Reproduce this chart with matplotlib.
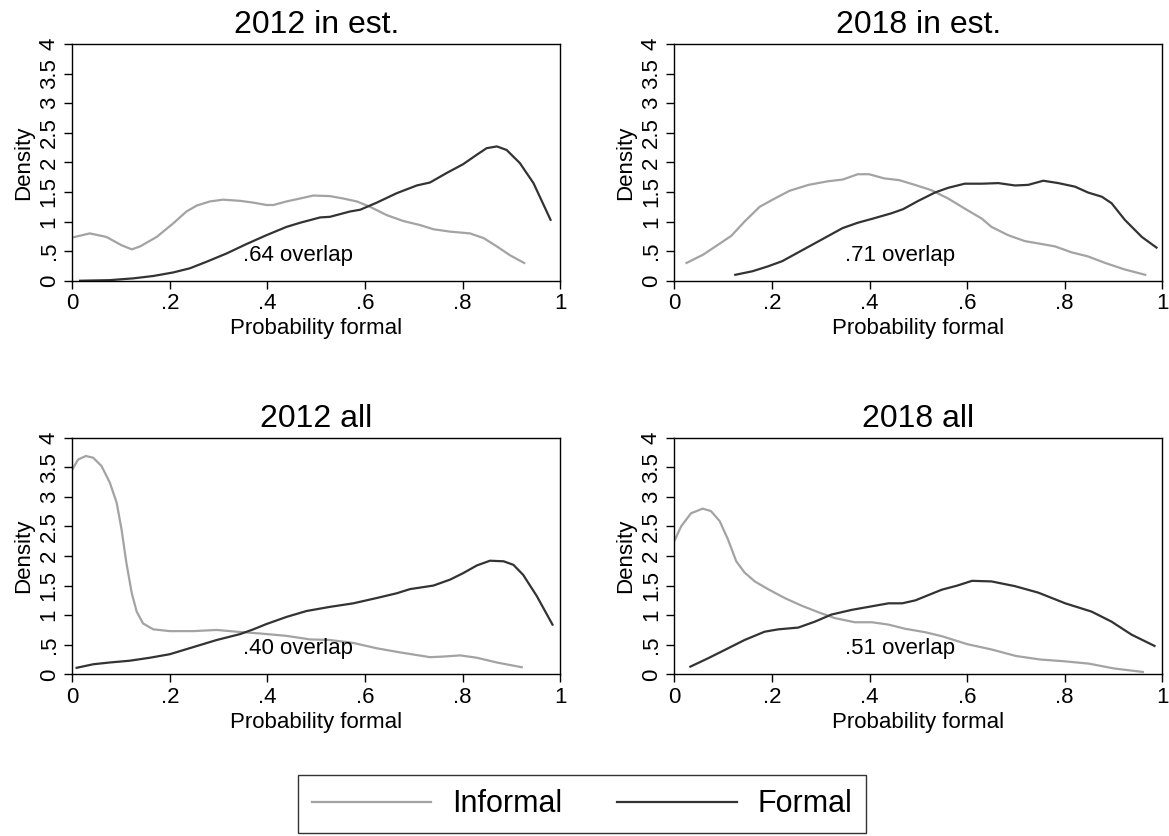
import matplotlib.pyplot as plt
from matplotlib.lines import Line2D

plt.rcParams['font.family'] = ['Liberation Sans', 'DejaVu Sans']

# panel titles and overlap labels
titles = ['2012 in est.', '2018 in est.', '2012 all', '2018 all']
overlaps = ['.64 overlap', '.71 overlap', '.40 overlap', '.51 overlap']

# 2012 in est.
inf_2012_est_x = [0, 0.036, 0.070, 0.101, 0.122, 0.139, 0.173, 0.207, 0.234, 0.255, 0.282, 0.309,
                  0.344, 0.371, 0.398, 0.412, 0.439, 0.467, 0.494, 0.528, 0.555, 0.583, 0.610,
                  0.644, 0.678, 0.713, 0.740, 0.774, 0.815, 0.843, 0.870, 0.897, 0.926]
inf_2012_est_y = [0.73, 0.80, 0.74, 0.60, 0.53, 0.58, 0.74, 0.97, 1.17, 1.27, 1.34, 1.37,
                  1.35, 1.32, 1.28, 1.28, 1.34, 1.39, 1.44, 1.43, 1.39, 1.34, 1.25,
                  1.11, 1.01, 0.94, 0.87, 0.83, 0.80, 0.72, 0.58, 0.43, 0.30]
for_2012_est_x = [0.016, 0.077, 0.125, 0.166, 0.207, 0.241, 0.275, 0.316, 0.357, 0.398, 0.439,
                  0.467, 0.508, 0.528, 0.569, 0.590, 0.624, 0.665, 0.706, 0.733, 0.767, 0.801,
                  0.829, 0.849, 0.870, 0.890, 0.917, 0.945, 0.980]
for_2012_est_y = [0.0, 0.01, 0.04, 0.08, 0.14, 0.21, 0.32, 0.46, 0.62, 0.77, 0.91,
                  0.98, 1.07, 1.08, 1.17, 1.20, 1.32, 1.48, 1.61, 1.66, 1.82, 1.97,
                  2.13, 2.24, 2.27, 2.21, 1.99, 1.65, 1.03]

# 2018 in est.
inf_2018_est_x = [0.025, 0.059, 0.090, 0.117, 0.144, 0.175, 0.206, 0.236, 0.275, 0.314, 0.345,
                  0.376, 0.399, 0.430, 0.461, 0.493, 0.527, 0.561, 0.595, 0.630, 0.650, 0.684,
                  0.718, 0.753, 0.780, 0.814, 0.848, 0.883, 0.923, 0.965]
inf_2018_est_y = [0.30, 0.44, 0.61, 0.76, 1.00, 1.25, 1.39, 1.52, 1.62, 1.68, 1.71,
                  1.80, 1.80, 1.73, 1.70, 1.62, 1.53, 1.39, 1.22, 1.05, 0.91, 0.77,
                  0.67, 0.62, 0.58, 0.48, 0.41, 0.30, 0.19, 0.10]
for_2018_est_x = [0.125, 0.160, 0.191, 0.221, 0.252, 0.283, 0.314, 0.345, 0.376, 0.407, 0.445,
                  0.469, 0.500, 0.534, 0.561, 0.595, 0.630, 0.664, 0.698, 0.725, 0.756, 0.787,
                  0.821, 0.848, 0.876, 0.896, 0.923, 0.958, 0.988]
for_2018_est_y = [0.10, 0.16, 0.24, 0.33, 0.47, 0.61, 0.75, 0.89, 0.98, 1.05, 1.14,
                  1.21, 1.35, 1.49, 1.57, 1.64, 1.64, 1.65, 1.61, 1.62, 1.69, 1.65,
                  1.59, 1.49, 1.42, 1.31, 1.03, 0.74, 0.56]

# 2012 all
inf_2012_all_x = [0, 0.012, 0.028, 0.043, 0.060, 0.077, 0.091, 0.101, 0.111, 0.122, 0.132, 0.145,
                  0.166, 0.200, 0.248, 0.296, 0.337, 0.385, 0.439, 0.487, 0.528, 0.576, 0.624,
                  0.672, 0.733, 0.760, 0.795, 0.829, 0.870, 0.921]
inf_2012_all_y = [3.46, 3.63, 3.69, 3.66, 3.52, 3.24, 2.90, 2.45, 1.88, 1.37, 1.06, 0.86,
                  0.76, 0.73, 0.73, 0.75, 0.72, 0.69, 0.65, 0.59, 0.58, 0.53, 0.44,
                  0.37, 0.29, 0.30, 0.32, 0.28, 0.20, 0.12]
for_2012_all_x = [0.009, 0.043, 0.077, 0.118, 0.159, 0.200, 0.248, 0.296, 0.344, 0.371, 0.398,
                  0.439, 0.480, 0.528, 0.576, 0.624, 0.665, 0.692, 0.740, 0.774, 0.801, 0.829,
                  0.856, 0.884, 0.904, 0.924, 0.952, 0.984]
for_2012_all_y = [0.11, 0.17, 0.20, 0.23, 0.28, 0.34, 0.46, 0.58, 0.68, 0.76, 0.85,
                  0.97, 1.07, 1.14, 1.20, 1.29, 1.37, 1.44, 1.50, 1.60, 1.71, 1.84,
                  1.92, 1.91, 1.85, 1.68, 1.32, 0.84]

# 2018 all
inf_2018_all_x = [0, 0.014, 0.034, 0.058, 0.075, 0.093, 0.110, 0.127, 0.144, 0.165, 0.192, 0.226,
                  0.261, 0.295, 0.329, 0.370, 0.405, 0.439, 0.473, 0.515, 0.55, 0.60, 0.65,
                  0.70, 0.75, 0.80, 0.85, 0.90, 0.96]
inf_2018_all_y = [2.25, 2.50, 2.72, 2.80, 2.76, 2.59, 2.28, 1.91, 1.72, 1.57, 1.44, 1.29,
                  1.16, 1.05, 0.95, 0.88, 0.88, 0.84, 0.77, 0.71, 0.64, 0.51, 0.42,
                  0.31, 0.25, 0.22, 0.18, 0.10, 0.04]
for_2018_all_x = [0.033, 0.069, 0.103, 0.144, 0.185, 0.213, 0.254, 0.288, 0.322, 0.364, 0.405,
                  0.439, 0.467, 0.494, 0.548, 0.580, 0.610, 0.650, 0.698, 0.746, 0.801, 0.855,
                  0.896, 0.937, 0.984]
for_2018_all_y = [0.13, 0.27, 0.41, 0.58, 0.72, 0.76, 0.79, 0.89, 1.01, 1.09, 1.15,
                  1.20, 1.20, 1.25, 1.43, 1.50, 1.58, 1.57, 1.49, 1.38, 1.20, 1.06,
                  0.89, 0.67, 0.48]

informal = [(inf_2012_est_x, inf_2012_est_y), (inf_2018_est_x, inf_2018_est_y),
            (inf_2012_all_x, inf_2012_all_y), (inf_2018_all_x, inf_2018_all_y)]
formal = [(for_2012_est_x, for_2012_est_y), (for_2018_est_x, for_2018_est_y),
          (for_2012_all_x, for_2012_all_y), (for_2018_all_x, for_2018_all_y)]

x_ticks = [0, 0.2, 0.4, 0.6, 0.8, 1]
x_labels = ['0', '.2', '.4', '.6', '.8', '1']
y_ticks = [0, 0.5, 1, 1.5, 2, 2.5, 3, 3.5, 4]
y_labels = ['0', '.5', '1', '1.5', '2', '2.5', '3', '3.5', '4']

gray = '#a3a3a3'
dark = '#333333'

fig = plt.figure(figsize=(11.69, 8.36), dpi=100)
positions = [[0.0618, 0.6642, 0.4175, 0.2831], [0.5768, 0.6642, 0.4175, 0.2831],
             [0.0618, 0.1934, 0.4175, 0.2831], [0.5768, 0.1934, 0.4175, 0.2831]]

for i in range(4):
    ax = fig.add_axes(positions[i])
    ax.plot(informal[i][0], informal[i][1], color=gray, lw=1.6, solid_joinstyle='round')
    ax.plot(formal[i][0], formal[i][1], color=dark, lw=1.6, solid_joinstyle='round')
    ax.set_xlim(0, 1)
    ax.set_ylim(0, 4)
    ax.set_xticks(x_ticks)
    ax.set_xticklabels(x_labels)
    ax.set_yticks(y_ticks)
    ax.set_yticklabels(y_labels, rotation=90, va='center')
    ax.tick_params(length=6, width=1, labelsize=16, pad=3, color='black')
    for s in ax.spines.values():
        s.set_linewidth(1.0)
    ax.set_title(titles[i], fontsize=23, pad=8)
    ax.set_xlabel('Probability formal', fontsize=16, labelpad=3)
    ax.set_ylabel('Density', fontsize=16, labelpad=3)
    ax.text(0.35, 0.43, overlaps[i], fontsize=16, ha='left', va='center')

handles = [Line2D([], [], color=gray, lw=1.6), Line2D([], [], color=dark, lw=1.6)]
leg = fig.legend(handles, ['Informal', 'Formal'], loc='lower center',
                 bbox_to_anchor=(0.498, 0.0), ncol=2, fontsize=22, frameon=True,
                 fancybox=False, edgecolor='black', handlelength=3.9,
                 handletextpad=0.7, columnspacing=1.8, borderpad=0.45,
                 borderaxespad=0.1)
leg.get_frame().set_linewidth(1.0)

fig.savefig('out.png', dpi=100)
